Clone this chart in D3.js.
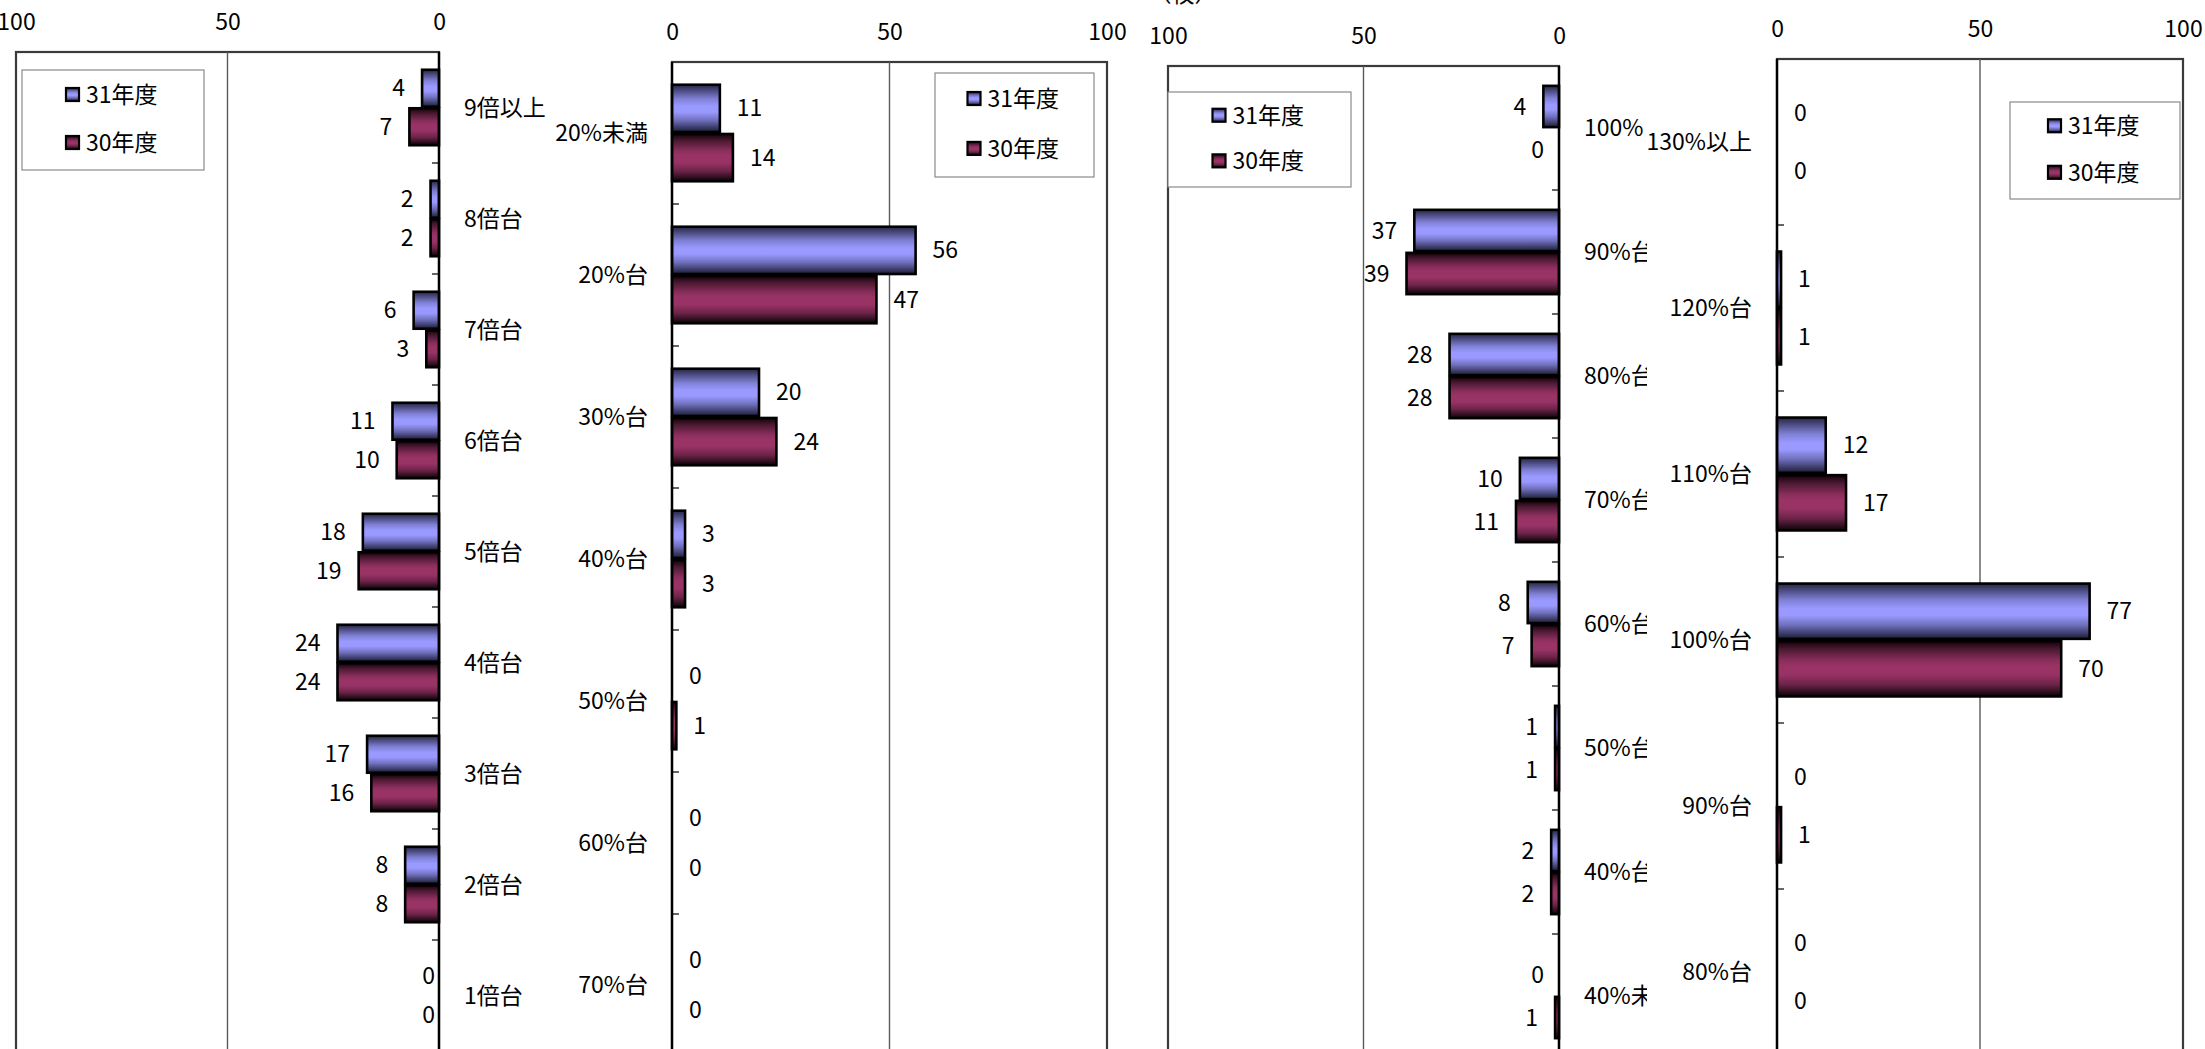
<!DOCTYPE html>
<html><head><meta charset="utf-8">
<script src="https://cdn.jsdelivr.net/npm/d3@7"></script>
<style>body{margin:0;background:#fff;overflow:hidden} svg{display:block}</style>
</head><body><svg id="c" width="2205" height="1049"></svg>
<script>
// ---- data ----
const seriesNames = ["31年度", "30年度"];
const valueTicks = [0, 50, 100];

const cat1 = ["9倍以上","8倍台","7倍台","6倍台","5倍台","4倍台","3倍台","2倍台","1倍台"];
const p1v31 = [4, 2, 6, 11, 18, 24, 17, 8, 0];
const p1v30 = [7, 2, 3, 10, 19, 24, 16, 8, 0];

const cat2 = ["20%未満","20%台","30%台","40%台","50%台","60%台","70%台"];
const p2v31 = [11, 56, 20, 3, 0, 0, 0];
const p2v30 = [14, 47, 24, 3, 1, 0, 0];

const cat3 = ["100%","90%台","80%台","70%台","60%台","50%台","40%台","40%未満"];
const p3v31 = [4, 37, 28, 10, 8, 1, 2, 0];
const p3v30 = [0, 39, 28, 11, 7, 1, 2, 1];

const cat4 = ["130%以上","120%台","110%台","100%台","90%台","80%台"];
const p4v31 = [0, 1, 12, 77, 0, 0];
const p4v30 = [0, 1, 17, 70, 1, 0];

const unitNote = "（校）";

// ---- layout (positions/styles only) ----
const panels = [
  {cats: cat1, v: [p1v31, p1v30], x0: 439, x100: 16, top: 52, band: 111,
   catX: 464, catAnchor: "start", zeroGap: 4,
   legend: {x: 22, y: 70, w: 182, h: 100}},
  {cats: cat2, v: [p2v31, p2v30], x0: 672, x100: 1107, top: 62, band: 142,
   catX: 648, catAnchor: "end", zeroGap: 17,
   legend: {x: 935, y: 73, w: 159, h: 104}},
  {cats: cat3, v: [p3v31, p3v30], x0: 1559, x100: 1168, top: 66, band: 124,
   catX: 1584, catAnchor: "start", zeroGap: 15, clipRight: 1647,
   legend: {x: 1168, y: 92, w: 183, h: 95}},
  {cats: cat4, v: [p4v31, p4v30], x0: 1777, x100: 2183, top: 59, band: 166,
   catX: 1752, catAnchor: "end", zeroGap: 17,
   legend: {x: 2010, y: 102, w: 170, h: 97}}
];

const FONT = "'Noto Sans CJK JP','Noto Sans',sans-serif";
const FS = 23;
const svg = d3.select("#c");
const defs = svg.append("defs");

function grad(id, stops) {
  const g = defs.append("linearGradient").attr("id", id)
    .attr("x1", 0).attr("y1", 0).attr("x2", 0).attr("y2", 1);
  stops.forEach(s => g.append("stop").attr("offset", s[0]).attr("stop-color", s[1]));
}
grad("gBlue", [[0,"#262645"],[0.12,"#4a4a80"],[0.3,"#8080d6"],[0.45,"#9999ff"],[0.58,"#9999ff"],[0.75,"#7070bd"],[0.9,"#3d3d6b"],[1,"#1c1c33"]]);
grad("gRed", [[0,"#14000a"],[0.15,"#4d1a33"],[0.35,"#8a2e5c"],[0.45,"#993366"],[0.6,"#993366"],[0.78,"#6e2449"],[0.92,"#2e0f1f"],[1,"#0a0005"]]);
const fills = ["url(#gBlue)", "url(#gRed)"];

panels.forEach((p, pi) => {
  const n = p.cats.length;
  const bottom = p.top + n * p.band;
  const x = d3.scaleLinear().domain([0, 100]).range([p.x0, p.x100]);
  const y = d3.scaleBand().domain(p.cats).range([p.top, bottom]).padding(0);
  const inner = d3.scaleBand().domain(seriesNames)
    .range([0.16 * p.band, 0.84 * p.band]).paddingInner(0.04).paddingOuter(0);
  const left = Math.min(p.x0, p.x100), right = Math.max(p.x0, p.x100);
  const dir = p.x100 > p.x0 ? 1 : -1;
  const g = svg.append("g");

  // plot box
  g.append("rect").attr("x", left).attr("y", p.top).attr("width", right - left)
    .attr("height", bottom - p.top).attr("fill", "#fff")
    .attr("stroke", "#3a3a3a").attr("stroke-width", 2.2);

  // gridline at 50
  g.append("line").attr("x1", x(50)).attr("x2", x(50))
    .attr("y1", p.top).attr("y2", bottom).attr("stroke", "#5a5a5a").attr("stroke-width", 1.4);

  // value axis labels (top)
  const ax = d3.axisTop(x).tickValues(valueTicks).tickSize(0).tickPadding(0);
  const axg = g.append("g").attr("transform", `translate(0,${p.top - 22})`).call(ax);
  axg.select(".domain").remove();
  axg.selectAll("text").attr("font-family", FONT).attr("font-size", FS).attr("fill", "#000");

  // legend
  const L = p.legend;
  const lg = g.append("g");
  lg.append("rect").attr("x", L.x).attr("y", L.y).attr("width", L.w).attr("height", L.h)
    .attr("fill", "#fff").attr("stroke", "#8a8a8a").attr("stroke-width", 1.2);
  const contentW = 94;
  const cx = L.x + (L.w - contentW) / 2;
  seriesNames.forEach((s, si) => {
    const cy = L.y + L.h * (si === 0 ? 0.25 : 0.73);
    lg.append("rect").attr("x", cx).attr("y", cy - 7).attr("width", 13).attr("height", 13)
      .attr("fill", fills[si]).attr("stroke", "#000").attr("stroke-width", 2.2);
    lg.append("text").attr("x", cx + 20).attr("y", cy).attr("dy", "0.35em")
      .attr("font-family", FONT).attr("font-size", FS).text(s);
  });

  // bars
  p.cats.forEach((c, ci) => {
    seriesNames.forEach((s, si) => {
      const val = p.v[si][ci];
      const by = y(c) + inner(s), bh = inner.bandwidth();
      if (val > 0) {
        const xa = x(0), xb = x(val);
        g.append("rect").attr("x", Math.min(xa, xb)).attr("y", by)
          .attr("width", Math.abs(xb - xa)).attr("height", bh)
          .attr("fill", fills[si]).attr("stroke", "#000").attr("stroke-width", 2.6);
      }
      const gap = val === 0 ? p.zeroGap : 17;
      g.append("text").attr("x", x(val) + dir * gap).attr("y", by + bh / 2).attr("dy", "0.35em")
        .attr("text-anchor", dir > 0 ? "start" : "end")
        .attr("font-family", FONT).attr("font-size", FS).attr("fill", "#000").text(val);
    });
  });

  // category axis line and inward ticks
  g.append("line").attr("x1", p.x0).attr("x2", p.x0).attr("y1", p.top).attr("y2", bottom)
    .attr("stroke", "#000").attr("stroke-width", 2.4);
  p.cats.slice(1).forEach(c => {
    g.append("line").attr("x1", p.x0).attr("x2", p.x0 + dir * 7)
      .attr("y1", y(c)).attr("y2", y(c)).attr("stroke", "#000").attr("stroke-width", 1.2);
  });

  // category labels
  let cg = g.append("g");
  if (p.clipRight) {
    defs.append("clipPath").attr("id", "clip" + pi).append("rect")
      .attr("x", p.x0 + 2).attr("y", 0).attr("width", p.clipRight - p.x0 - 2).attr("height", 1049);
    cg.attr("clip-path", `url(#clip${pi})`);
  }
  p.cats.forEach(c => {
    cg.append("text").attr("x", p.catX).attr("y", y(c) + y.bandwidth() / 2).attr("dy", "0.35em")
      .attr("text-anchor", p.catAnchor).attr("font-family", FONT).attr("font-size", FS)
      .attr("fill", "#000").text(c);
  });
});

// unit note (mostly cut off at the top)
svg.append("text").attr("x", 1183).attr("y", 2).attr("text-anchor", "middle")
  .attr("font-family", FONT).attr("font-size", FS).text(unitNote);
</script>
</body></html>
